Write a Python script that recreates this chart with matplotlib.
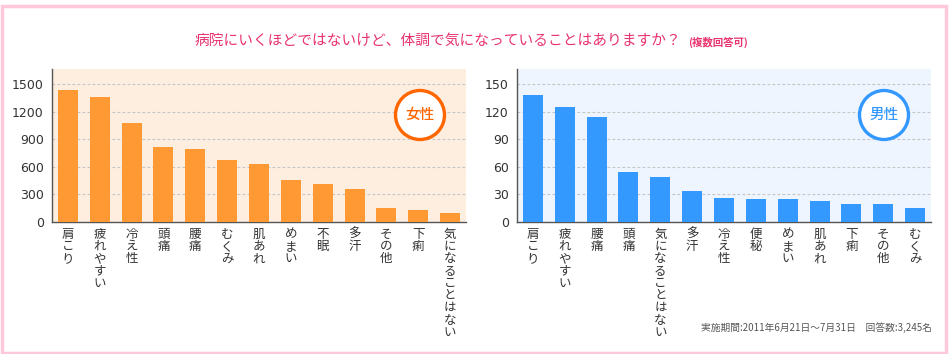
import matplotlib
matplotlib.use('Agg')
import matplotlib.pyplot as plt
from matplotlib.patches import Rectangle, Ellipse

plt.rcParams['font.family'] = ['Noto Sans CJK JP', 'DejaVu Sans']

## data
women_labels = ['肩こり', '疲れやすい', '冷え性', '頭痛', '腰痛', 'むくみ', '肌あれ',
                'めまい', '不眠', '多汗', 'その他', '下痢', '気になることはない']
women_values = [1438, 1362, 1078, 817, 795, 675, 632, 457, 414, 359, 152, 131, 98]
women_ticks = [0, 300, 600, 900, 1200, 1500]

men_labels = ['肩こり', '疲れやすい', '腰痛', '頭痛', '気になることはない', '多汗', '冷え性',
              '便秘', 'めまい', '肌あれ', '下痢', 'その他', 'むくみ']
men_values = [138, 125, 114, 55, 49, 34, 26, 25, 25, 23, 20, 20, 15]
men_ticks = [0, 30, 60, 90, 120, 150]

title = '病院にいくほどではないけど、体調で気になっていることはありますか？'
title_sub = '(複数回答可)'
footer = '実施期間:2011年6月21日〜7月31日　回答数:3,245名'

W, H = 950, 354
fig = plt.figure(figsize=(W / 100, H / 100), dpi=100)
fig.patch.set_facecolor('white')

# pink frame
fig.patches.append(Rectangle((1.5 / W, 1.5 / H), 1 - 6 / W, 1 - 7 / H, transform=fig.transFigure,
                             fill=False, edgecolor='#ffc8dc', linewidth=2.5, zorder=0))

def panel(rect, labels, values, ticks, top, bar_color, bg, badge, badge_color, badge_xy):
    ax = fig.add_axes(rect)
    ax.set_facecolor(bg)
    x = range(len(values))
    ax.bar(x, values, width=0.63, color=bar_color, zorder=3)
    ax.set_xlim(-0.5, len(values) - 0.5)
    ax.set_ylim(0, top)
    ax.set_yticks(ticks)
    ax.set_yticklabels([str(t) for t in ticks], fontsize=9, color='#333333',
                       family=['DejaVu Sans'])
    for t in ticks[1:]:
        ax.axhline(t, color='#c4c4c4', linestyle=(0, (2.5, 2)), linewidth=0.8, zorder=1)
    ax.set_xticks(list(x))
    ax.set_xticklabels(['\n'.join(s) for s in labels], fontsize=9, color='#333333',
                       va='top', linespacing=0.93)
    ax.tick_params(axis='both', length=0, pad=4)
    ax.tick_params(axis='y', pad=6)
    for s in ['top', 'right']:
        ax.spines[s].set_visible(False)
    for s in ['left', 'bottom']:
        ax.spines[s].set_color('#555555')
        ax.spines[s].set_linewidth(1.0)
    cx, cy = badge_xy
    fig.patches.append(Ellipse((cx / W, 1 - cy / H), 49 / W, 49 / H, transform=fig.transFigure,
                               facecolor='white', edgecolor=badge_color, linewidth=2.4, zorder=5))
    fig.text(cx / W, 1 - cy / H, badge, ha='center', va='center', fontsize=10.5,
             fontweight='medium', color=badge_color, zorder=6)
    return ax

panel([52 / W, 1 - 222 / H, 414 / W, 153 / H], women_labels, women_values, women_ticks, 1667,
      '#ff9933', '#fdeedf', '女性', '#ff6600', (420, 115))
panel([517 / W, 1 - 222 / H, 414 / W, 153 / H], men_labels, men_values, men_ticks, 166.7,
      '#3399ff', '#eef5fe', '男性', '#3399ff', (884, 115))

fig.text(681 / W, 1 - 41 / H, title, ha='right', va='center', fontsize=10.6, color='#e8336e')
fig.text(688 / W, 1 - 42 / H, title_sub, ha='left', va='center', fontsize=7.5,
         fontweight='bold', color='#e8336e')
fig.text(932 / W, 1 - 328 / H, footer, ha='right', va='center', fontsize=7, color='#555555')

fig.savefig('out.png', dpi=100)
